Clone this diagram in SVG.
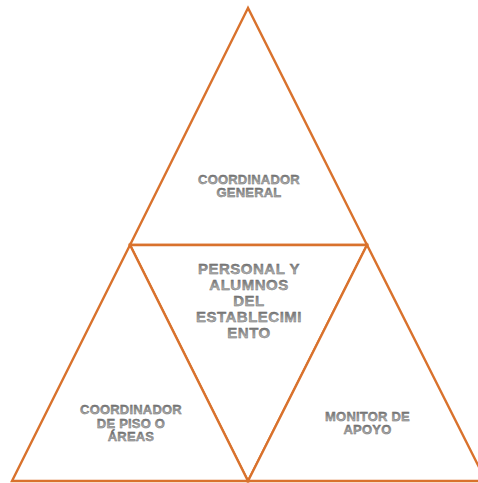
<svg xmlns="http://www.w3.org/2000/svg" width="478" height="483" viewBox="0 0 478 483">
<defs>
<linearGradient id="tg" x1="0" y1="0" x2="0" y2="1">
<stop offset="0.15" stop-color="#707070"/>
<stop offset="0.9" stop-color="#c0c0c0"/>
</linearGradient>
</defs>
<style>
.tri{fill:#ffffff;stroke:#D9722D;stroke-width:2.4;stroke-linejoin:miter}
.lbl{font-family:"Liberation Sans",Arial,sans-serif;font-weight:bold;text-anchor:middle;fill:url(#tg);stroke:#666666;stroke-width:0.4}
.s13{font-size:13px;letter-spacing:0.2px}
.s15{font-size:15px;letter-spacing:0.5px}
</style>
<rect width="478" height="483" fill="#ffffff"/>
<g id="top">
<polygon class="tri" points="248,8 130,245 367,245"/>
<text class="lbl s13" x="249" y="183.5">COORDINADOR</text>
<text class="lbl s13" x="249" y="197">GENERAL</text>
</g>
<g id="middle">
<polygon class="tri" points="130,245 367,245 248,481"/>
<text class="lbl s15" x="249" y="274">PERSONAL Y</text>
<text class="lbl s15" x="249" y="290">ALUMNOS</text>
<text class="lbl s15" x="249" y="306">DEL</text>
<text class="lbl s15" x="249" y="322">ESTABLECIMI</text>
<text class="lbl s15" x="249" y="338">ENTO</text>
</g>
<g id="bottom-left">
<polygon class="tri" points="130,245 12,481 248,481"/>
<text class="lbl s13" x="131" y="414">COORDINADOR</text>
<text class="lbl s13" x="131" y="427.5">DE PISO O</text>
<text class="lbl s13" x="131" y="441">ÁREAS</text>
</g>
<g id="bottom-right">
<polygon class="tri" points="367,245 248,481 486,481"/>
<text class="lbl s13" x="367.5" y="420.5">MONITOR DE</text>
<text class="lbl s13" x="367.5" y="434">APOYO</text>
</g>
<g id="connectors"></g>
</svg>
